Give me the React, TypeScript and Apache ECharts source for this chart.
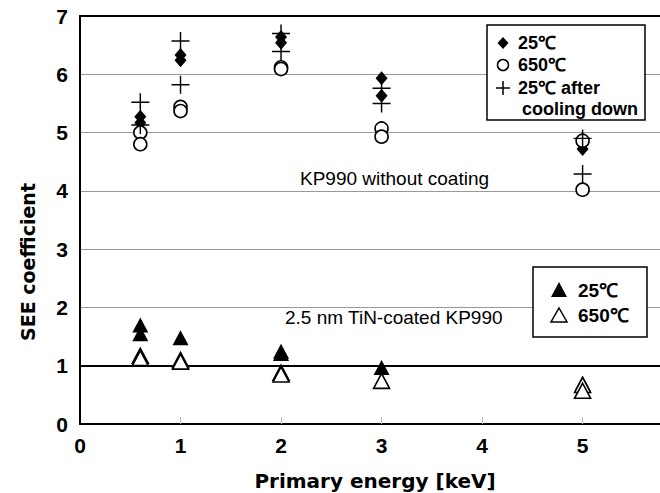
import React, { useEffect, useRef } from "react";
import * as echarts from "echarts";

// ---- data ----
const X_TICKS = [0, 1, 2, 3, 4, 5];
const Y_TICKS = [0, 1, 2, 3, 4, 5, 6, 7];

// KP990 without coating (two measurements per energy)
const UNCOATED_X = [0.6, 0.6, 1, 1, 2, 2, 3, 3, 5, 5];
const UNCOATED_25C = [5.27, 5.17, 6.33, 6.24, 6.64, 6.54, 5.93, 5.63, 4.72, 4.8];
const UNCOATED_650C = [5.0, 4.8, 5.44, 5.37, 6.12, 6.09, 5.07, 4.93, 4.86, 4.02];
const UNCOATED_COOLED = [5.52, 5.13, 6.57, 5.82, 6.7, 6.39, 5.76, 5.5, 4.9, 4.29];

// 2.5 nm TiN-coated KP990
const TIN_25C_X = [0.6, 0.6, 1, 2, 2, 3, 5];
const TIN_25C = [1.7, 1.55, 1.48, 1.25, 1.21, 0.97, 0.7];
const TIN_650C_X = [0.6, 0.6, 1, 1, 2, 2, 3, 5, 5];
const TIN_650C = [1.17, 1.13, 1.1, 1.07, 0.88, 0.85, 0.74, 0.67, 0.57];

const REFERENCE_LINE = 1;

const LEGEND_TOP = ["25℃", "650℃", "25℃ after", "cooling down"];
const LEGEND_BOTTOM = ["25℃", "650℃"];
const NOTE_UNCOATED = "KP990 without coating";
const NOTE_COATED = "2.5 nm TiN-coated KP990";
const X_TITLE = "Primary energy [keV]";
const Y_TITLE = "SEE coefficient";

const zip = (xs: number[], ys: number[]) => xs.map((x, i) => [x, ys[i]]);

const PLUS =
  "path://M9.2,0 h1.6 v9.2 h9.2 v1.6 h-9.2 v9.2 h-1.6 v-9.2 h-9.2 v-1.6 h9.2 z";

const LABEL_FONT = "'Liberation Sans', Arial, sans-serif";
const TITLE_FONT = "'DejaVu Sans', 'Liberation Sans', sans-serif";
const NOTE_FONT = "'Liberation Sans', Arial, sans-serif";

export default function App() {
  const ref = useRef<HTMLDivElement>(null);

  useEffect(() => {
    if (!ref.current) return;
    const chart = echarts.init(ref.current, undefined, { renderer: "svg" });

    const legendText = (text: string, x: number, y: number) => ({
      type: "text",
      x,
      y,
      z: 101,
      style: {
        text,
        fill: "#000",
        fontSize: 18,
        fontWeight: "bold",
        fontFamily: LABEL_FONT,
        align: "left",
        verticalAlign: "middle",
      },
    });

    const option: any = {
      animation: false,
      backgroundColor: "#fff",
      grid: { left: 80, top: 16, right: 0, bottom: 69, containLabel: false },
      xAxis: [
        {
          type: "value",
          min: 0,
          max: 5.77,
          interval: 1,
          axisLine: { show: true, onZero: false, lineStyle: { color: "#000", width: 2 } },
          axisTick: {
            show: true,
            inside: true,
            length: 7,
            lineStyle: { color: "#bbb", width: 1 },
            customValues: X_TICKS.slice(1),
          },
          splitLine: { show: false },
          axisLabel: {
            color: "#000",
            fontSize: 21,
            fontWeight: "bold",
            fontFamily: LABEL_FONT,
            margin: 11,
            customValues: X_TICKS,
          },
        },
        {
          type: "value",
          position: "top",
          min: 0,
          max: 5.77,
          interval: 1,
          axisLine: { show: true, onZero: false, lineStyle: { color: "#000", width: 2 } },
          axisTick: { show: false },
          axisLabel: { show: false },
          splitLine: { show: false },
        },
      ],
      yAxis: {
        type: "value",
        min: 0,
        max: 7,
        interval: 1,
        axisLine: { show: true, lineStyle: { color: "#000", width: 2 } },
        axisTick: { show: false },
        splitLine: { show: true, lineStyle: { color: "#999", width: 1 } },
        axisLabel: {
          color: "#000",
          fontSize: 21,
          fontWeight: "bold",
          fontFamily: LABEL_FONT,
          margin: 12,
          padding: [10, 0, 0, 0],
          customValues: Y_TICKS,
        },
      },
      series: [
        {
          name: "25℃",
          type: "scatter",
          symbol: "diamond",
          symbolSize: [12, 14],
          itemStyle: { color: "#000", opacity: 1 },
          data: zip(UNCOATED_X, UNCOATED_25C),
          z: 3,
          markLine: {
            silent: true,
            symbol: "none",
            label: { show: false },
            lineStyle: { color: "#000", width: 2, type: "solid" },
            data: [{ yAxis: REFERENCE_LINE }],
          },
        },
        {
          name: "650℃",
          type: "scatter",
          symbol: "circle",
          symbolSize: 13,
          itemStyle: { color: "#fff", borderColor: "#000", borderWidth: 1.6, opacity: 1 },
          data: zip(UNCOATED_X, UNCOATED_650C),
          z: 4,
        },
        {
          name: "25℃ after cooling down",
          type: "scatter",
          symbol: PLUS,
          symbolSize: 18,
          itemStyle: { color: "#000", borderWidth: 0, opacity: 1 },
          data: zip(UNCOATED_X, UNCOATED_COOLED),
          z: 5,
        },
        {
          name: "TiN 25℃",
          type: "scatter",
          symbol: "triangle",
          symbolSize: [16, 15],
          itemStyle: { color: "#000", opacity: 1 },
          data: zip(TIN_25C_X, TIN_25C),
          z: 6,
        },
        {
          name: "TiN 650℃",
          type: "scatter",
          symbol: "triangle",
          symbolSize: [16, 15],
          itemStyle: { color: "#fff", borderColor: "#000", borderWidth: 1.6, opacity: 1 },
          data: zip(TIN_650C_X, TIN_650C),
          z: 7,
        },
      ],
      graphic: [
        // axis titles
        {
          type: "text",
          x: 28,
          y: 262,
          rotation: Math.PI / 2,
          style: {
            text: Y_TITLE,
            fill: "#000",
            fontSize: 19,
            fontWeight: "bold",
            fontFamily: TITLE_FONT,
            align: "center",
            verticalAlign: "middle",
          },
        },
        {
          type: "text",
          x: 375,
          y: 481,
          style: {
            text: X_TITLE,
            fill: "#000",
            fontSize: 20,
            fontWeight: "bold",
            fontFamily: TITLE_FONT,
            align: "center",
            verticalAlign: "middle",
          },
        },
        // annotations
        {
          type: "text",
          x: 300,
          y: 178,
          style: {
            text: NOTE_UNCOATED,
            fill: "#000",
            fontSize: 19,
            fontFamily: NOTE_FONT,
            align: "left",
            verticalAlign: "middle",
          },
        },
        {
          type: "text",
          x: 285,
          y: 317,
          style: {
            text: NOTE_COATED,
            fill: "#000",
            fontSize: 19,
            fontFamily: NOTE_FONT,
            align: "left",
            verticalAlign: "middle",
          },
        },
        // legend box 1
        {
          type: "rect",
          z: 100,
          shape: { x: 487, y: 25, width: 158, height: 95 },
          style: { fill: "#fff", stroke: "#000", lineWidth: 1.5 },
        },
        {
          type: "polygon",
          z: 101,
          shape: { points: [[503, 37], [508.5, 43], [503, 49], [497.5, 43]] },
          style: { fill: "#000" },
        },
        {
          type: "circle",
          z: 101,
          shape: { cx: 503, cy: 65, r: 5.5 },
          style: { fill: "#fff", stroke: "#000", lineWidth: 1.5 },
        },
        {
          type: "line",
          z: 101,
          shape: { x1: 496, y1: 88, x2: 510, y2: 88 },
          style: { stroke: "#000", lineWidth: 1.5 },
        },
        {
          type: "line",
          z: 101,
          shape: { x1: 503, y1: 81, x2: 503, y2: 95 },
          style: { stroke: "#000", lineWidth: 1.5 },
        },
        legendText(LEGEND_TOP[0], 518, 43),
        legendText(LEGEND_TOP[1], 518, 65),
        legendText(LEGEND_TOP[2], 518, 88),
        legendText(LEGEND_TOP[3], 522, 109),
        // legend box 2
        {
          type: "rect",
          z: 100,
          shape: { x: 533, y: 267, width: 114, height: 70 },
          style: { fill: "#fff", stroke: "#000", lineWidth: 1.5 },
        },
        {
          type: "polygon",
          z: 101,
          shape: { points: [[559, 282], [567, 297], [551, 297]] },
          style: { fill: "#000" },
        },
        {
          type: "polygon",
          z: 101,
          shape: { points: [[559, 308], [567, 322], [551, 322]] },
          style: { fill: "#fff", stroke: "#000", lineWidth: 1.5 },
        },
        {
          ...legendText(LEGEND_BOTTOM[0], 578, 290),
          style: { ...legendText("", 0, 0).style, text: LEGEND_BOTTOM[0], fontSize: 19 },
        },
        {
          ...legendText(LEGEND_BOTTOM[1], 578, 315),
          style: { ...legendText("", 0, 0).style, text: LEGEND_BOTTOM[1], fontSize: 19 },
        },
      ],
    };

    chart.setOption(option);
    return () => chart.dispose();
  }, []);

  return (
    <div
      ref={ref}
      style={{ position: "fixed", left: 0, top: 0, width: 660, height: 493, background: "#fff" }}
    />
  );
}
